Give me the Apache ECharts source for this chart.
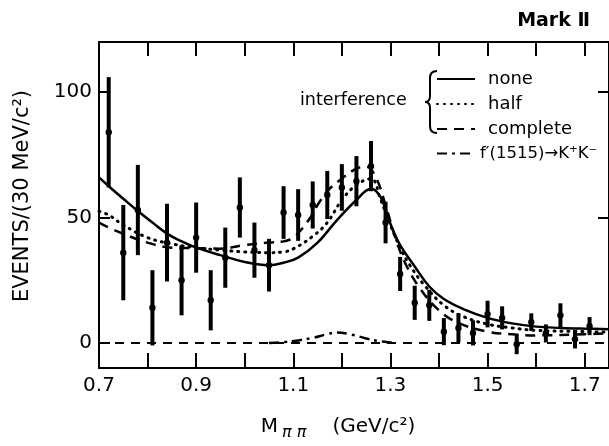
<!DOCTYPE html>
<html>
<head>
<meta charset="utf-8">
<script src="https://cdn.jsdelivr.net/npm/echarts@6/dist/echarts.min.js"></script>
<style>
html,body{margin:0;padding:0;background:#fff;}
#chart{width:609px;height:446px;}
</style>
</head>
<body>
<div id="chart"></div>
<script>
// ---- data ----
const massX = [0.72,0.75,0.78,0.81,0.84,0.87,0.90,0.93,0.96,0.99,1.02,1.05,1.08,1.11,1.14,1.17,1.20,1.23,1.26,1.29,1.32,1.35,1.38,1.41,1.44,1.47,1.50,1.53,1.56,1.59,1.62,1.65,1.68,1.71];
const events = [84,36,53,14,40,25,42,17,34,54,37,31,52,51,55,59,62,64.5,70.5,48,27.5,16,15,4.5,6,4,11.5,10,-0.5,8.3,3.8,11,1.5,6.7];
const errors = [22,19,18,15,15.5,14,14,12,12,12,11,10.5,10.5,10.3,9.4,9.6,9.3,10,10,8.3,6.8,6.8,6.2,5.4,5.8,5,5.3,4.6,4,3.5,3.6,4.8,3.7,3.6];

const noneX = [0.70,0.72,0.75,0.78,0.81,0.84,0.87,0.90,0.95,1.00,1.05,1.08,1.11,1.15,1.19,1.23,1.26,1.28,1.30,1.32,1.35,1.38,1.41,1.45,1.50,1.55,1.60,1.65,1.70,1.75];
const noneY = [66,62.5,57.5,52.6,48,43.6,40.5,38,35,32.3,31,32,34,40,49,57,61.5,58,47.5,39,30.5,22.5,17.5,13.5,10,7.8,6.5,6,5.7,5.5];

const halfX = [0.70,0.72,0.75,0.80,0.85,0.90,0.95,1.00,1.05,1.08,1.10,1.14,1.17,1.20,1.23,1.26,1.28,1.30,1.32,1.34,1.37,1.41,1.45,1.50,1.55,1.60,1.70,1.75];
const halfY = [52.5,51,47,42,39.5,38,37,36.3,36,36.3,37.5,42.5,48,57,63,65.5,57,47,38,31,23,15,10.5,7.5,6,5,4.5,4.3];

const completeX = [0.70,0.72,0.75,0.80,0.85,0.90,0.95,1.00,1.05,1.08,1.10,1.13,1.15,1.17,1.20,1.23,1.25,1.27,1.29,1.31,1.33,1.36,1.40,1.44,1.50,1.55,1.60,1.70,1.75];
const completeY = [48,46,43.5,40,38,37.8,37.6,39,40,40.5,42,48.5,55,60.5,65.5,69.5,70.3,66,55,42,32,22,13,8,4.5,3.5,3,3.5,3.8];

const fpX = [1.05,1.08,1.11,1.14,1.17,1.19,1.22,1.25,1.28,1.31];
const fpY = [0,0.3,1,2,3.5,4.2,3.3,1.8,0.6,0];

const zeroX = [0.70,1.75];
const zeroY = [0,0];

const xTickValues = [0.8,0.9,1.0,1.1,1.2,1.3,1.4,1.5,1.6,1.7];
const xLabelValues = [0.7,0.9,1.1,1.3,1.5,1.7];
const yTickValues = [0,50,100];

const legendNames = ['none','half','complete',"f\u2032(1515)\u2192K\u207AK\u207B"];

// ---- chart ----
const FONT = 'DejaVu Sans';
const zip = (xs, ys) => xs.map((x, i) => [x, ys[i]]);
const chart = echarts.init(document.getElementById('chart'), null, {renderer: 'canvas'});

const axisLineStyle = {color: '#000', width: 2};
const braceStyle = {stroke: '#000', lineWidth: 2, fill: null};
const legendText = {fontFamily: FONT, fontSize: 18, color: '#000', padding: [0, 0, 0, 8]};

const option = {
  animation: false,
  backgroundColor: '#fff',
  title: {
    text: 'Mark \u2161',
    right: 14, top: 7,
    textStyle: {fontFamily: FONT, fontSize: 19, fontWeight: 'bold', color: '#000'}
  },
  grid: {left: 99, top: 42, width: 512, height: 326, containLabel: false},
  legend: {
    data: [
      {name: legendNames[0], textStyle: legendText},
      {name: legendNames[1], textStyle: legendText},
      {name: legendNames[2], textStyle: legendText},
      {name: legendNames[3], textStyle: {fontFamily: FONT, fontSize: 16.5, color: '#000', padding: [0, 0, 0, 0]}}
    ],
    orient: 'vertical',
    left: 436, top: 70, padding: 0,
    itemWidth: 38, itemHeight: 14, itemGap: 7,
    itemStyle: {color: 'rgba(0,0,0,0)', borderWidth: 0, borderColor: 'rgba(0,0,0,0)'},
    inactiveColor: '#000'
  },
  xAxis: [{
    type: 'value', position: 'bottom', min: 0.7, max: 1.75,
    axisLine: {show: true, onZero: false, lineStyle: axisLineStyle},
    axisTick: {show: true, inside: true, length: 15, lineStyle: {color: '#000', width: 2}, customValues: xTickValues},
    axisLabel: {show: true, customValues: xLabelValues, margin: 8, fontFamily: FONT, fontSize: 20, color: '#000',
      formatter: v => (Math.round(v * 10) / 10).toFixed(1)},
    splitLine: {show: false},
    name: '{m|M}{s|\u03C0 \u03C0}{g|}{m|(GeV/c\u00B2)}',
    nameLocation: 'middle', nameGap: 45,
    nameTextStyle: {padding: [0, 32, 0, 0], rich: {
      m: {fontFamily: FONT, fontSize: 20, color: '#000'},
      s: {fontFamily: FONT, fontSize: 16, fontStyle: 'italic', color: '#000', padding: [12, 0, 0, 4]},
      g: {width: 26}
    }}
  }, {
    type: 'value', position: 'top', min: 0.7, max: 1.75,
    axisLine: {show: true, onZero: false, lineStyle: axisLineStyle},
    axisTick: {show: true, inside: true, length: 14, lineStyle: {color: '#000', width: 2}, customValues: xTickValues},
    axisLabel: {show: false},
    splitLine: {show: false}
  }],
  yAxis: [{
    type: 'value', position: 'left', min: -10, max: 120,
    axisLine: {show: true, onZero: false, lineStyle: axisLineStyle},
    axisTick: {show: true, inside: true, length: 11, lineStyle: {color: '#000', width: 2}, customValues: yTickValues},
    axisLabel: {show: true, customValues: yTickValues, margin: 7, fontFamily: FONT, fontSize: 20, color: '#000'},
    splitLine: {show: false},
    name: 'EVENTS/(30 MeV/c\u00B2)',
    nameLocation: 'middle', nameGap: 66, nameRotate: 90,
    nameTextStyle: {fontFamily: FONT, fontSize: 21, color: '#000', padding: [0, 0, 0, 18]}
  }, {
    type: 'value', position: 'right', min: -10, max: 120,
    axisLine: {show: true, onZero: false, lineStyle: axisLineStyle},
    axisTick: {show: true, inside: true, length: 11, lineStyle: {color: '#000', width: 2}, customValues: [50, 100]},
    axisLabel: {show: false},
    splitLine: {show: false}
  }],
  graphic: [
    {type: 'text', left: 300, top: 91, style: {text: 'interference', fontFamily: FONT, fontSize: 17.5, fill: '#000'}},
    {type: 'bezierCurve', shape: {x1: 437, y1: 71, cpx1: 430, cpy1: 71, x2: 430, y2: 78}, style: braceStyle},
    {type: 'line', shape: {x1: 430, y1: 78, x2: 430, y2: 96}, style: braceStyle},
    {type: 'bezierCurve', shape: {x1: 430, y1: 96, cpx1: 430, cpy1: 102, x2: 425, y2: 102}, style: braceStyle},
    {type: 'bezierCurve', shape: {x1: 425, y1: 102, cpx1: 430, cpy1: 102, x2: 430, y2: 108}, style: braceStyle},
    {type: 'line', shape: {x1: 430, y1: 108, x2: 430, y2: 126}, style: braceStyle},
    {type: 'bezierCurve', shape: {x1: 430, y1: 126, cpx1: 430, cpy1: 133, x2: 437, y2: 133}, style: braceStyle}
  ],
  series: [
    {
      name: 'data', type: 'custom', z: 5,
      data: massX.map((x, i) => [x, events[i], errors[i]]),
      renderItem: function (params, api) {
        const x = api.value(0), y = api.value(1), e = api.value(2);
        const top = api.coord([x, y + e]);
        const bot = api.coord([x, y - e]);
        const c = api.coord([x, y]);
        return {type: 'group', children: [
          {type: 'line', shape: {x1: top[0], y1: top[1], x2: bot[0], y2: bot[1]}, style: {stroke: '#000', lineWidth: 4}},
          {type: 'circle', shape: {cx: c[0], cy: c[1], r: 3.2}, style: {fill: '#000'}}
        ]};
      }
    },
    {name: 'none', type: 'line', data: zip(noneX, noneY), smooth: 0.4, symbol: 'none',
     lineStyle: {color: '#000', width: 2.5}, itemStyle: {color: '#000'}},
    {name: 'half', type: 'line', data: zip(halfX, halfY), smooth: 0.4, symbol: 'none',
     lineStyle: {color: '#000', width: 3, type: [1, 6], cap: 'round'}, itemStyle: {color: '#000'}},
    {name: 'complete', type: 'line', data: zip(completeX, completeY), smooth: 0.4, symbol: 'none',
     lineStyle: {color: '#000', width: 2.5, type: [10, 7]}, itemStyle: {color: '#000'}},
    {name: legendNames[3], type: 'line', data: zip(fpX, fpY), smooth: 0.4, symbol: 'none',
     lineStyle: {color: '#000', width: 2.5, type: [10, 5, 3, 5]}, itemStyle: {color: '#000'}},
    {name: 'zero', type: 'line', data: zip(zeroX, zeroY), symbol: 'none',
     lineStyle: {color: '#000', width: 2, type: [9, 7]}}
  ]
};
chart.setOption(option);
</script>
</body>
</html>
